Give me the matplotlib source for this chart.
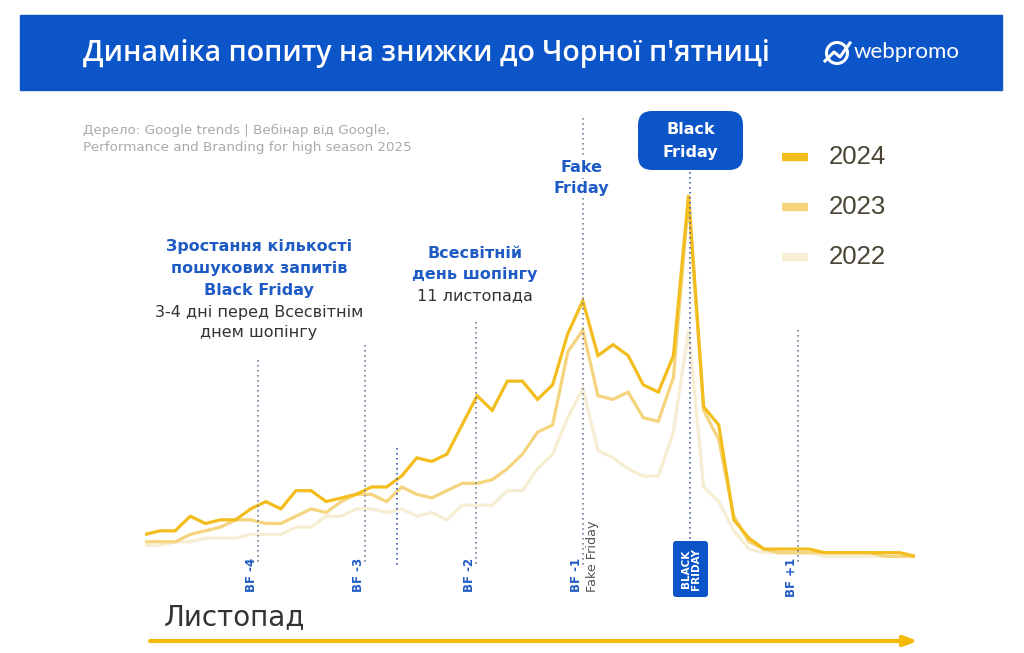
import matplotlib
matplotlib.use('Agg')
import matplotlib.pyplot as plt
from matplotlib.patches import FancyBboxPatch, Rectangle, Circle
from matplotlib import transforms

# ---------------- data ----------------
days = list(range(52))
demand_2024 = [7, 8, 8, 12, 10, 11, 11, 14, 16, 14, 19, 19, 16, 17, 18, 20, 20, 23, 28, 27,
               29, 37, 45, 41, 49, 49, 44, 48, 62, 71, 56, 59, 56, 48, 46, 56, 100, 42, 37, 11,
               6, 3, 3, 3, 3, 2, 2, 2, 2, 2, 2, 1]
demand_2023 = [5, 5, 5, 7, 8, 9, 11, 11, 10, 10, 12, 14, 13, 16, 18, 18, 16, 20, 18, 17,
               19, 21, 21, 22, 25, 29, 35, 37, 57, 63, 45, 44, 46, 39, 38, 50, 99, 41, 33, 12,
               5, 3, 2, 2, 2, 2, 2, 2, 2, 1, 1, 1]
demand_2022 = [4, 4, 5, 5, 6, 6, 6, 7, 7, 7, 9, 9, 12, 12, 14, 14, 13, 14, 12, 13,
               11, 15, 15, 15, 19, 19, 25, 29, 39, 47, 30, 28, 25, 23, 23, 35, 63, 20, 16, 8,
               3, 2, 2, 2, 2, 1, 1, 1, 1, 1, 1, 1]
series_labels = ['2024', '2023', '2022']
series_values = [demand_2024, demand_2023, demand_2022]

event_days = [7.5, 14.6, 16.7, 21.9, 29.0, 36.1, 43.25]
event_labels = ['BF -4', 'BF -3', '', 'BF -2', 'BF -1', 'BLACK\nFRIDAY', 'BF +1']

title = "Динаміка попиту на знижки до Чорної п'ятниці"
source_lines = ["Дерело: Google trends | Вебінар від Google,",
                "Performance and Branding for high season 2025"]

# ---------------- style ----------------
BLUE = '#0C55C8'
TXT_BLUE = '#1F5BC4'
series_colors = ['#F2BD1D', '#F5D47E', '#F7EDD3']
series_lw = [2.3, 2.3, 2.3]
W, H = 1024, 653
FONT = 'DejaVu Sans'

fig = plt.figure(figsize=(W / 100, H / 100), dpi=100)
fig.patch.set_facecolor('white')

# data axes: x 0..51 -> px 145..915, value 0 -> px 560, 100 -> px 195
ax = fig.add_axes([145 / W, (H - 600) / H, 770 / W, 500 / H])
ax.set_xlim(0, 51)
ax.set_ylim((560 - 600) / 3.65, (560 - 100) / 3.65)
ax.axis('off')

ov = fig.add_axes([0, 0, 1, 1], zorder=3)
ov.set_xlim(0, W)
ov.set_ylim(H, 0)
ov.axis('off')
ov.patch.set_visible(False)

tr = transforms.blended_transform_factory(ax.transData, ov.transData)

# series (lightest first)
for vals, col, lw in reversed(list(zip(series_values, series_colors, series_lw))):
    ax.plot(days, vals, color=col, lw=lw, solid_joinstyle='miter', zorder=2)

# event dotted lines (x in data, y in pixels)
v_tops = [360, 345, 448, 322, 118, 172, 330]
v_bots = [565, 562, 565, 565, 565, 540, 565]
v_cols = ['#76819A', '#76819A', '#3D5DB8', '#76819A', '#76819A', '#4C62A8', '#76819A']
for d, t, b, c in zip(event_days, v_tops, v_bots, v_cols):
    ax.plot([d, d], [t, b], transform=tr, color=c, lw=1.2, ls=(0, (1, 2)),
            clip_on=False, zorder=3)

# bottom labels
for d, lab in zip(event_days, event_labels):
    if lab == '' or 'BLACK' in lab:
        continue
    ax.text(d, 558, lab, transform=tr, rotation=90, ha='right', va='top',
            color=TXT_BLUE, fontsize=8.5, fontweight='bold', family=FONT, clip_on=False)
ax.text(event_days[4] + 0.2, 520, 'Fake Friday', transform=tr, rotation=90, ha='left',
        va='top', color='#555555', fontsize=9.2, family=FONT, clip_on=False)
# black friday bottom box
ov.add_patch(FancyBboxPatch((673, 541), 35, 56, boxstyle='round,pad=0,rounding_size=3',
                            fc=BLUE, ec='none', zorder=4))
ov.text(690.5, 569, event_labels[5], rotation=90, ha='center', va='center', color='white',
        fontsize=7.5, fontweight='bold', family=FONT, linespacing=1.0, zorder=5)

# header
ov.add_patch(Rectangle((20, 15), 982, 75, color=BLUE, zorder=1))
ov.text(83, 53, title, color='white', fontsize=20.5, fontweight='semibold', va='center',
        ha='left', family='Open Sans', zorder=2)
ov.add_patch(Circle((837, 53), 10.5, fill=False, ec='white', lw=2.2, zorder=2))
ov.plot([825, 834, 840, 850], [61, 52, 57, 43], color='white', lw=2.2, zorder=3)
ov.text(854, 52, 'webpromo', color='white', fontsize=16, va='center', ha='left',
        family='Lato', zorder=2)

# source
ov.text(83, 130, source_lines[0], color='#AAAAAA', fontsize=9.7, va='center', family=FONT)
ov.text(83, 147, source_lines[1], color='#AAAAAA', fontsize=9.7, va='center', family=FONT)

# left annotation
left_blue = ['Зростання кількості', 'пошукових запитів', 'Black Friday']
for i, s in enumerate(left_blue):
    ov.text(259, 247 + i * 21.5, s, color=TXT_BLUE, fontsize=11.5, fontweight='bold',
            ha='center', va='center', family=FONT)
for i, s in enumerate(['3-4 дні перед Всесвітнім', 'днем шопінгу']):
    ov.text(259, 312 + i * 20.5, s, color='#333333', fontsize=11.5, ha='center',
            va='center', family=FONT)

# middle annotation
for i, s in enumerate(['Всесвітній', 'день шопінгу']):
    ov.text(475, 253 + i * 21.5, s, color=TXT_BLUE, fontsize=11.5, fontweight='bold',
            ha='center', va='center', family=FONT)
ov.text(475, 296, '11 листопада', color='#333333', fontsize=11.5, ha='center',
        va='center', family=FONT)

# fake friday top
for i, s in enumerate(['Fake', 'Friday']):
    ov.text(581, 167 + i * 21, s, color=TXT_BLUE, fontsize=11.5, fontweight='bold',
            ha='center', va='center', family=FONT,
            bbox=dict(fc='white', ec='none', pad=1))

# black friday top box
ov.add_patch(FancyBboxPatch((638, 111), 105, 59, boxstyle='round,pad=0,rounding_size=14',
                            fc=BLUE, ec='none'))
ov.text(690.5, 130, 'Black', color='white', fontsize=11.5, fontweight='bold',
        ha='center', va='center', family=FONT)
ov.text(690.5, 152, 'Friday', color='white', fontsize=11.5, fontweight='bold',
        ha='center', va='center', family=FONT)

# legend
for i, (lab, col) in enumerate(zip(series_labels, series_colors)):
    y = 157 + i * 50
    ov.plot([782, 808], [y, y], color=col, lw=6, solid_capstyle='butt')
    ov.text(829, y, lab, color='#4A4535', fontsize=18.5, va='center', ha='left',
            family='Liberation Sans')

# month label and arrow
ov.text(164, 617, 'Листопад', fontsize=20, color='#333333', va='center', ha='left',
        family=FONT)
ov.annotate('', xy=(918, 641), xytext=(150, 641),
            arrowprops=dict(arrowstyle='-|>,head_length=0.8,head_width=0.3',
                            color='#F5B90A', lw=3, shrinkA=0, shrinkB=0))

fig.savefig('out.png', dpi=100, facecolor='white')
